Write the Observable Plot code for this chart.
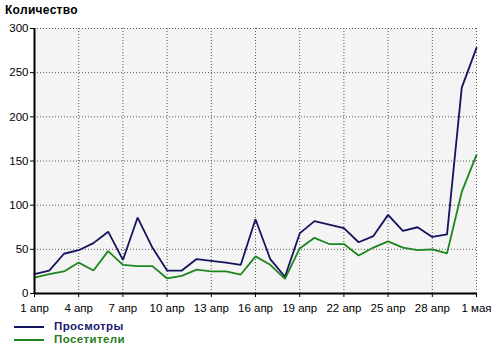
<!DOCTYPE html>
<html>
<head>
<meta charset="utf-8">
<script src="https://cdn.jsdelivr.net/npm/d3@7"></script>
<script src="https://cdn.jsdelivr.net/npm/@observablehq/plot@0.6"></script>
<style>
  body { margin: 0; background: #fff; font-family: "Liberation Sans", Arial, sans-serif; }
  #wrap { position: relative; width: 500px; height: 351px; }
  #title { position: absolute; left: 5px; top: 3px; font-size: 12px; font-weight: bold; color: #000; letter-spacing: 0.3px; }
  #chart { position: absolute; left: 0; top: 20px; }
  #legend { position: absolute; left: 0; top: 320px; font-size: 11.5px; font-weight: bold; letter-spacing: 0.4px; }
  .item { position: relative; height: 13px; line-height: 13px; }
  .item .sw { position: absolute; left: 14px; top: 6px; width: 30px; height: 2px; }
  .item .lb { position: absolute; left: 54px; top: 0; }
</style>
</head>
<body>
<div id="wrap">
  <div id="title">Количество</div>
  <div id="chart"></div>
  <div id="legend"></div>
</div>
<script>
const dates = [
  "2011-04-01","2011-04-02","2011-04-03","2011-04-04","2011-04-05","2011-04-06","2011-04-07","2011-04-08",
  "2011-04-09","2011-04-10","2011-04-11","2011-04-12","2011-04-13","2011-04-14","2011-04-15","2011-04-16",
  "2011-04-17","2011-04-18","2011-04-19","2011-04-20","2011-04-21","2011-04-22","2011-04-23","2011-04-24",
  "2011-04-25","2011-04-26","2011-04-27","2011-04-28","2011-04-29","2011-04-30","2011-05-01"
];
const views = [22, 26, 45, 49, 57, 70, 38, 86, 52, 26, 26, 39, 37, 35, 32.5, 84, 39, 19, 68, 82, 78, 74, 58, 65, 89, 71, 75, 64, 67, 233, 278];
const visitors = [18, 22, 25, 35, 26, 48, 32.5, 31, 31, 17, 20, 27, 25, 25, 21.5, 42, 32.5, 16.5, 51, 63, 56, 56, 43, 52, 59, 52, 49, 50, 45.5, 115, 157];
const seriesNames = ["Просмотры", "Посетители"];
const seriesColors = ["#14145e", "#1e861e"];
const legendTextColors = ["#1a1a70", "#2a7a1a"];
const yTicks = [0, 50, 100, 150, 200, 250, 300];
const xTickDates = ["2011-04-01","2011-04-04","2011-04-07","2011-04-10","2011-04-13","2011-04-16","2011-04-19","2011-04-22","2011-04-25","2011-04-28","2011-05-01"];
const monthNames = {3: "апр", 4: "мая"};

const parse = s => new Date(s + "T00:00:00Z");
const rows = [];
dates.forEach((d, i) => {
  rows.push({date: parse(d), value: views[i], series: seriesNames[0]});
  rows.push({date: parse(d), value: visitors[i], series: seriesNames[1]});
});
const xt = xTickDates.map(parse);

const chart = Plot.plot({
  width: 500,
  height: 300,
  marginLeft: 34,
  marginRight: 24,
  marginTop: 8,
  marginBottom: 27,
  style: {fontFamily: "'Liberation Sans', Arial, sans-serif", fontSize: "11px", color: "#000", background: "transparent"},
  x: {type: "utc", domain: [parse(dates[0]), parse(dates[dates.length - 1])]},
  y: {domain: [0, 300]},
  color: {domain: seriesNames, range: seriesColors},
  marks: [
    Plot.frame({fill: "#f4f4f4", stroke: null}),
    Plot.gridY(yTicks.filter(t => t > 0), {stroke: "#555", strokeOpacity: 1, strokeDasharray: "1,2", strokeWidth: 1}),
    Plot.gridX(xt.slice(1), {stroke: "#555", strokeOpacity: 1, strokeDasharray: "1,2", strokeWidth: 1}),
    Plot.axisY(yTicks, {tickSize: 4, tickPadding: 2, label: null, fontSize: 11.5, tickFormat: d => String(d)}),
    Plot.axisX(xt, {tickSize: 4, tickPadding: 6, label: null, fontSize: 11.5,
      tickFormat: d => `${d.getUTCDate()} ${monthNames[d.getUTCMonth()]}`}),
    Plot.lineY(rows, {x: "date", y: "value", stroke: "series", strokeWidth: 1.8, strokeLinejoin: "miter"}),
    Plot.ruleX([parse(dates[0])], {stroke: "#000", strokeWidth: 2}),
    Plot.ruleY([0], {stroke: "#000", strokeWidth: 2})
  ]
});
document.getElementById("chart").appendChild(chart);

const legend = document.getElementById("legend");
seriesNames.forEach((n, i) => {
  const it = document.createElement("div");
  it.className = "item";
  it.innerHTML = `<span class="sw" style="background:${seriesColors[i]}"></span><span class="lb" style="color:${legendTextColors[i]}">${n}</span>`;
  legend.appendChild(it);
});
</script>
</body>
</html>
